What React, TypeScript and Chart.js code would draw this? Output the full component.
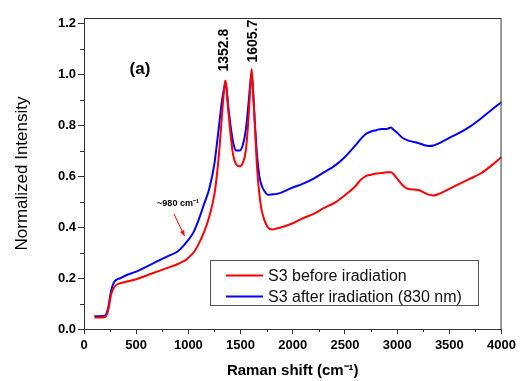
import React, { useEffect, useRef } from 'react';
import { Chart, registerables } from 'chart.js';

Chart.register(...registerables);

const ramanShift = [
  100, 150, 200, 230, 260, 290, 350, 400, 500, 600, 700, 800, 900, 950, 980, 1000,
  1050, 1100, 1150, 1200, 1250, 1280, 1300, 1320, 1340, 1353, 1365, 1380, 1400, 1430,
  1460, 1490, 1520, 1550, 1575, 1595, 1606, 1620, 1640, 1660, 1680, 1700, 1730, 1760,
  1800, 1850, 1900, 2000, 2100, 2200, 2300, 2400, 2500, 2600, 2650, 2700, 2750, 2800,
  2850, 2900, 2940, 2970, 3000, 3050, 3100, 3200, 3300, 3350, 3400, 3500, 3600, 3700,
  3800, 3900, 4000,
];

const beforeIrradiation = [
  0.045, 0.045, 0.047, 0.07, 0.135, 0.165, 0.18, 0.185, 0.195, 0.21, 0.225, 0.24, 0.255, 0.265, 0.272, 0.28,
  0.3, 0.335, 0.38, 0.44, 0.53, 0.63, 0.72, 0.83, 0.93, 0.975, 0.95, 0.87, 0.78, 0.68,
  0.645, 0.638, 0.65, 0.7, 0.82, 0.96, 1.02, 0.93, 0.77, 0.62, 0.53, 0.47, 0.425, 0.4,
  0.39, 0.395, 0.4, 0.415, 0.435, 0.452, 0.475, 0.495, 0.525, 0.56, 0.585, 0.6, 0.605, 0.61,
  0.612, 0.615, 0.615, 0.605, 0.59, 0.565, 0.55, 0.545, 0.527, 0.524, 0.53, 0.55, 0.57, 0.59,
  0.61, 0.64, 0.675,
];

const afterIrradiation = [
  0.05, 0.05, 0.052, 0.08, 0.15, 0.185, 0.2, 0.21, 0.225, 0.245, 0.265, 0.285, 0.305, 0.325, 0.34, 0.35,
  0.38, 0.43, 0.49, 0.55, 0.65, 0.75, 0.82, 0.89, 0.94, 0.96, 0.945, 0.88, 0.81, 0.73,
  0.7, 0.7, 0.72, 0.78, 0.88, 0.97, 1.0, 0.93, 0.79, 0.67, 0.6, 0.565, 0.54, 0.527,
  0.528, 0.53, 0.537, 0.555, 0.57, 0.59, 0.615, 0.64, 0.675, 0.72, 0.745, 0.765, 0.775, 0.78,
  0.785, 0.785, 0.79, 0.78, 0.77, 0.75, 0.74, 0.73, 0.718, 0.72, 0.728, 0.75, 0.77, 0.795,
  0.825, 0.858, 0.89,
];

const seriesLabels = ['S3 before iradiation', 'S3 after iradiation (830 nm)'];
const seriesColors = ['#ff0000', '#0000ff'];

const xMajorTicks = [0, 500, 1000, 1500, 2000, 2500, 3000, 3500, 4000];
const xMinorTicks = [250, 750, 1250, 1750, 2250, 2750, 3250, 3750];
const yMajorTicks = [0, 0.2, 0.4, 0.6, 0.8, 1.0, 1.2];
const yMinorTicks = [0.1, 0.3, 0.5, 0.7, 0.9, 1.1];

const peakPositions = [1352.8, 1605.7];
const peakLabels = ['1352.8', '1605.7'];
const shoulderLabel = '~980 cm⁻¹';
const panelLabel = '(a)';

const FONT = '"Liberation Sans", Arial, sans-serif';
const AXIS_COLOR = '#333333';

const decorPlugin = {
  id: 'decor',
  afterDraw(chart: any) {
    const { ctx, chartArea: a, scales } = chart;
    const xs = scales.x;
    const ys = scales.y;
    ctx.save();

    // frame
    ctx.strokeStyle = AXIS_COLOR;
    ctx.lineWidth = 1;
    ctx.strokeRect(a.left + 0.5, a.top + 0.5, a.right - a.left - 1, a.bottom - a.top);

    // minor ticks
    ctx.beginPath();
    xMinorTicks.forEach((v) => {
      const px = Math.round(xs.getPixelForValue(v)) + 0.5;
      ctx.moveTo(px, a.bottom);
      ctx.lineTo(px, a.bottom + 3);
    });
    yMinorTicks.forEach((v) => {
      const py = Math.round(ys.getPixelForValue(v)) + 0.5;
      ctx.moveTo(a.left, py);
      ctx.lineTo(a.left - 4, py);
    });
    ctx.stroke();

    // panel label
    ctx.fillStyle = '#000';
    ctx.font = `bold 17px ${FONT}`;
    ctx.textAlign = 'center';
    ctx.textBaseline = 'middle';
    ctx.fillText(panelLabel, 140, 69);

    // peak labels (rotated)
    const peakOffsets = [-1, 2];
    const peakBottoms = [1.01, 1.045];
    ctx.font = `bold 14px ${FONT}`;
    peakLabels.forEach((t, i) => {
      ctx.save();
      ctx.translate(xs.getPixelForValue(peakPositions[i]) + peakOffsets[i], ys.getPixelForValue(peakBottoms[i]));
      ctx.rotate(-Math.PI / 2);
      ctx.textAlign = 'left';
      ctx.textBaseline = 'middle';
      ctx.fillText(t, 0, 0);
      ctx.restore();
    });

    // shoulder label + arrow
    ctx.font = `bold 9px ${FONT}`;
    ctx.textAlign = 'center';
    ctx.textBaseline = 'middle';
    ctx.fillText(shoulderLabel, 178, 204);
    ctx.strokeStyle = '#ff0000';
    ctx.fillStyle = '#ff0000';
    ctx.lineWidth = 1;
    const x0 = 174, y0 = 214, x1 = 184.5, y1 = 236;
    ctx.beginPath();
    ctx.moveTo(x0, y0);
    ctx.lineTo(x1, y1);
    ctx.stroke();
    const ang = Math.atan2(y1 - y0, x1 - x0);
    ctx.beginPath();
    ctx.moveTo(x1, y1);
    ctx.lineTo(x1 - 6 * Math.cos(ang - 0.4), y1 - 6 * Math.sin(ang - 0.4));
    ctx.lineTo(x1 - 6 * Math.cos(ang + 0.4), y1 - 6 * Math.sin(ang + 0.4));
    ctx.closePath();
    ctx.fill();

    // legend
    const bx = 210.5, by = 260.5, bw = 268, bh = 45;
    ctx.fillStyle = '#fff';
    ctx.fillRect(bx, by, bw, bh);
    ctx.strokeStyle = '#555';
    ctx.lineWidth = 1;
    ctx.strokeRect(bx, by, bw, bh);
    const rows = [275.5, 296.5];
    seriesLabels.forEach((lab, i) => {
      ctx.strokeStyle = seriesColors[i];
      ctx.lineWidth = 2;
      ctx.beginPath();
      ctx.moveTo(226, rows[i]);
      ctx.lineTo(263, rows[i]);
      ctx.stroke();
      ctx.fillStyle = '#111';
      ctx.font = `16px ${FONT}`;
      ctx.textAlign = 'left';
      ctx.textBaseline = 'middle';
      ctx.fillText(lab, 268, rows[i] + 1);
    });

    ctx.restore();
  },
};

export default function App() {
  const canvasRef = useRef<HTMLCanvasElement | null>(null);

  useEffect(() => {
    document.body.style.margin = '0';
    const canvas = canvasRef.current;
    if (!canvas) return;
    const series = [beforeIrradiation, afterIrradiation];
    const chart = new Chart(canvas, {
      type: 'line',
      data: {
        datasets: series.map((vals, i) => ({
          label: seriesLabels[i],
          data: ramanShift.map((x, j) => ({ x, y: vals[j] })),
          borderColor: seriesColors[i],
          backgroundColor: seriesColors[i],
          borderWidth: 2,
          pointRadius: 0,
          cubicInterpolationMode: 'monotone' as const,
          fill: false,
        })),
      },
      options: {
        responsive: false,
        animation: false,
        layout: { padding: { top: 18, right: 13, left: 0, bottom: 0 } },
        plugins: {
          legend: { display: false },
          tooltip: { enabled: false },
        },
        scales: {
          x: {
            type: 'linear',
            min: 0,
            max: 4000,
            afterBuildTicks: (s: any) => {
              s.ticks = xMajorTicks.map((v) => ({ value: v }));
            },
            afterFit: (s: any) => {
              s.height = 52;
            },
            border: { display: false },
            grid: { drawOnChartArea: false, drawTicks: true, tickLength: 5, color: AXIS_COLOR },
            ticks: {
              padding: 4,
              maxRotation: 0,
              color: '#000',
              font: { family: FONT, size: 13, weight: 'bold' },
              callback: (v: any) => String(v),
            },
            title: {
              display: true,
              text: 'Raman shift (cm⁻¹)',
              color: '#000',
              font: { family: FONT, size: 15, weight: 'bold' },
              padding: { top: 0, bottom: 1 },
            },
          },
          y: {
            type: 'linear',
            min: 0,
            max: 1.22,
            afterBuildTicks: (s: any) => {
              s.ticks = yMajorTicks.map((v) => ({ value: v }));
            },
            afterFit: (s: any) => {
              s.width = 84;
            },
            border: { display: false },
            grid: { drawOnChartArea: false, drawTicks: true, tickLength: 6, color: AXIS_COLOR },
            ticks: {
              padding: 2,
              color: '#000',
              font: { family: FONT, size: 13, weight: 'bold' },
              callback: (v: any) => Number(v).toFixed(1),
            },
            title: {
              display: true,
              text: 'Normalized Intensity',
              color: '#000',
              font: { family: FONT, size: 17, weight: 'normal' },
              padding: { top: 12, bottom: 0 },
            },
          },
        },
      },
      plugins: [decorPlugin],
    });
    return () => chart.destroy();
  }, []);

  return (
    <div style={{ width: 520, height: 381 }}>
      <canvas ref={canvasRef} width={520} height={381} style={{ display: 'block' }} />
    </div>
  );
}
